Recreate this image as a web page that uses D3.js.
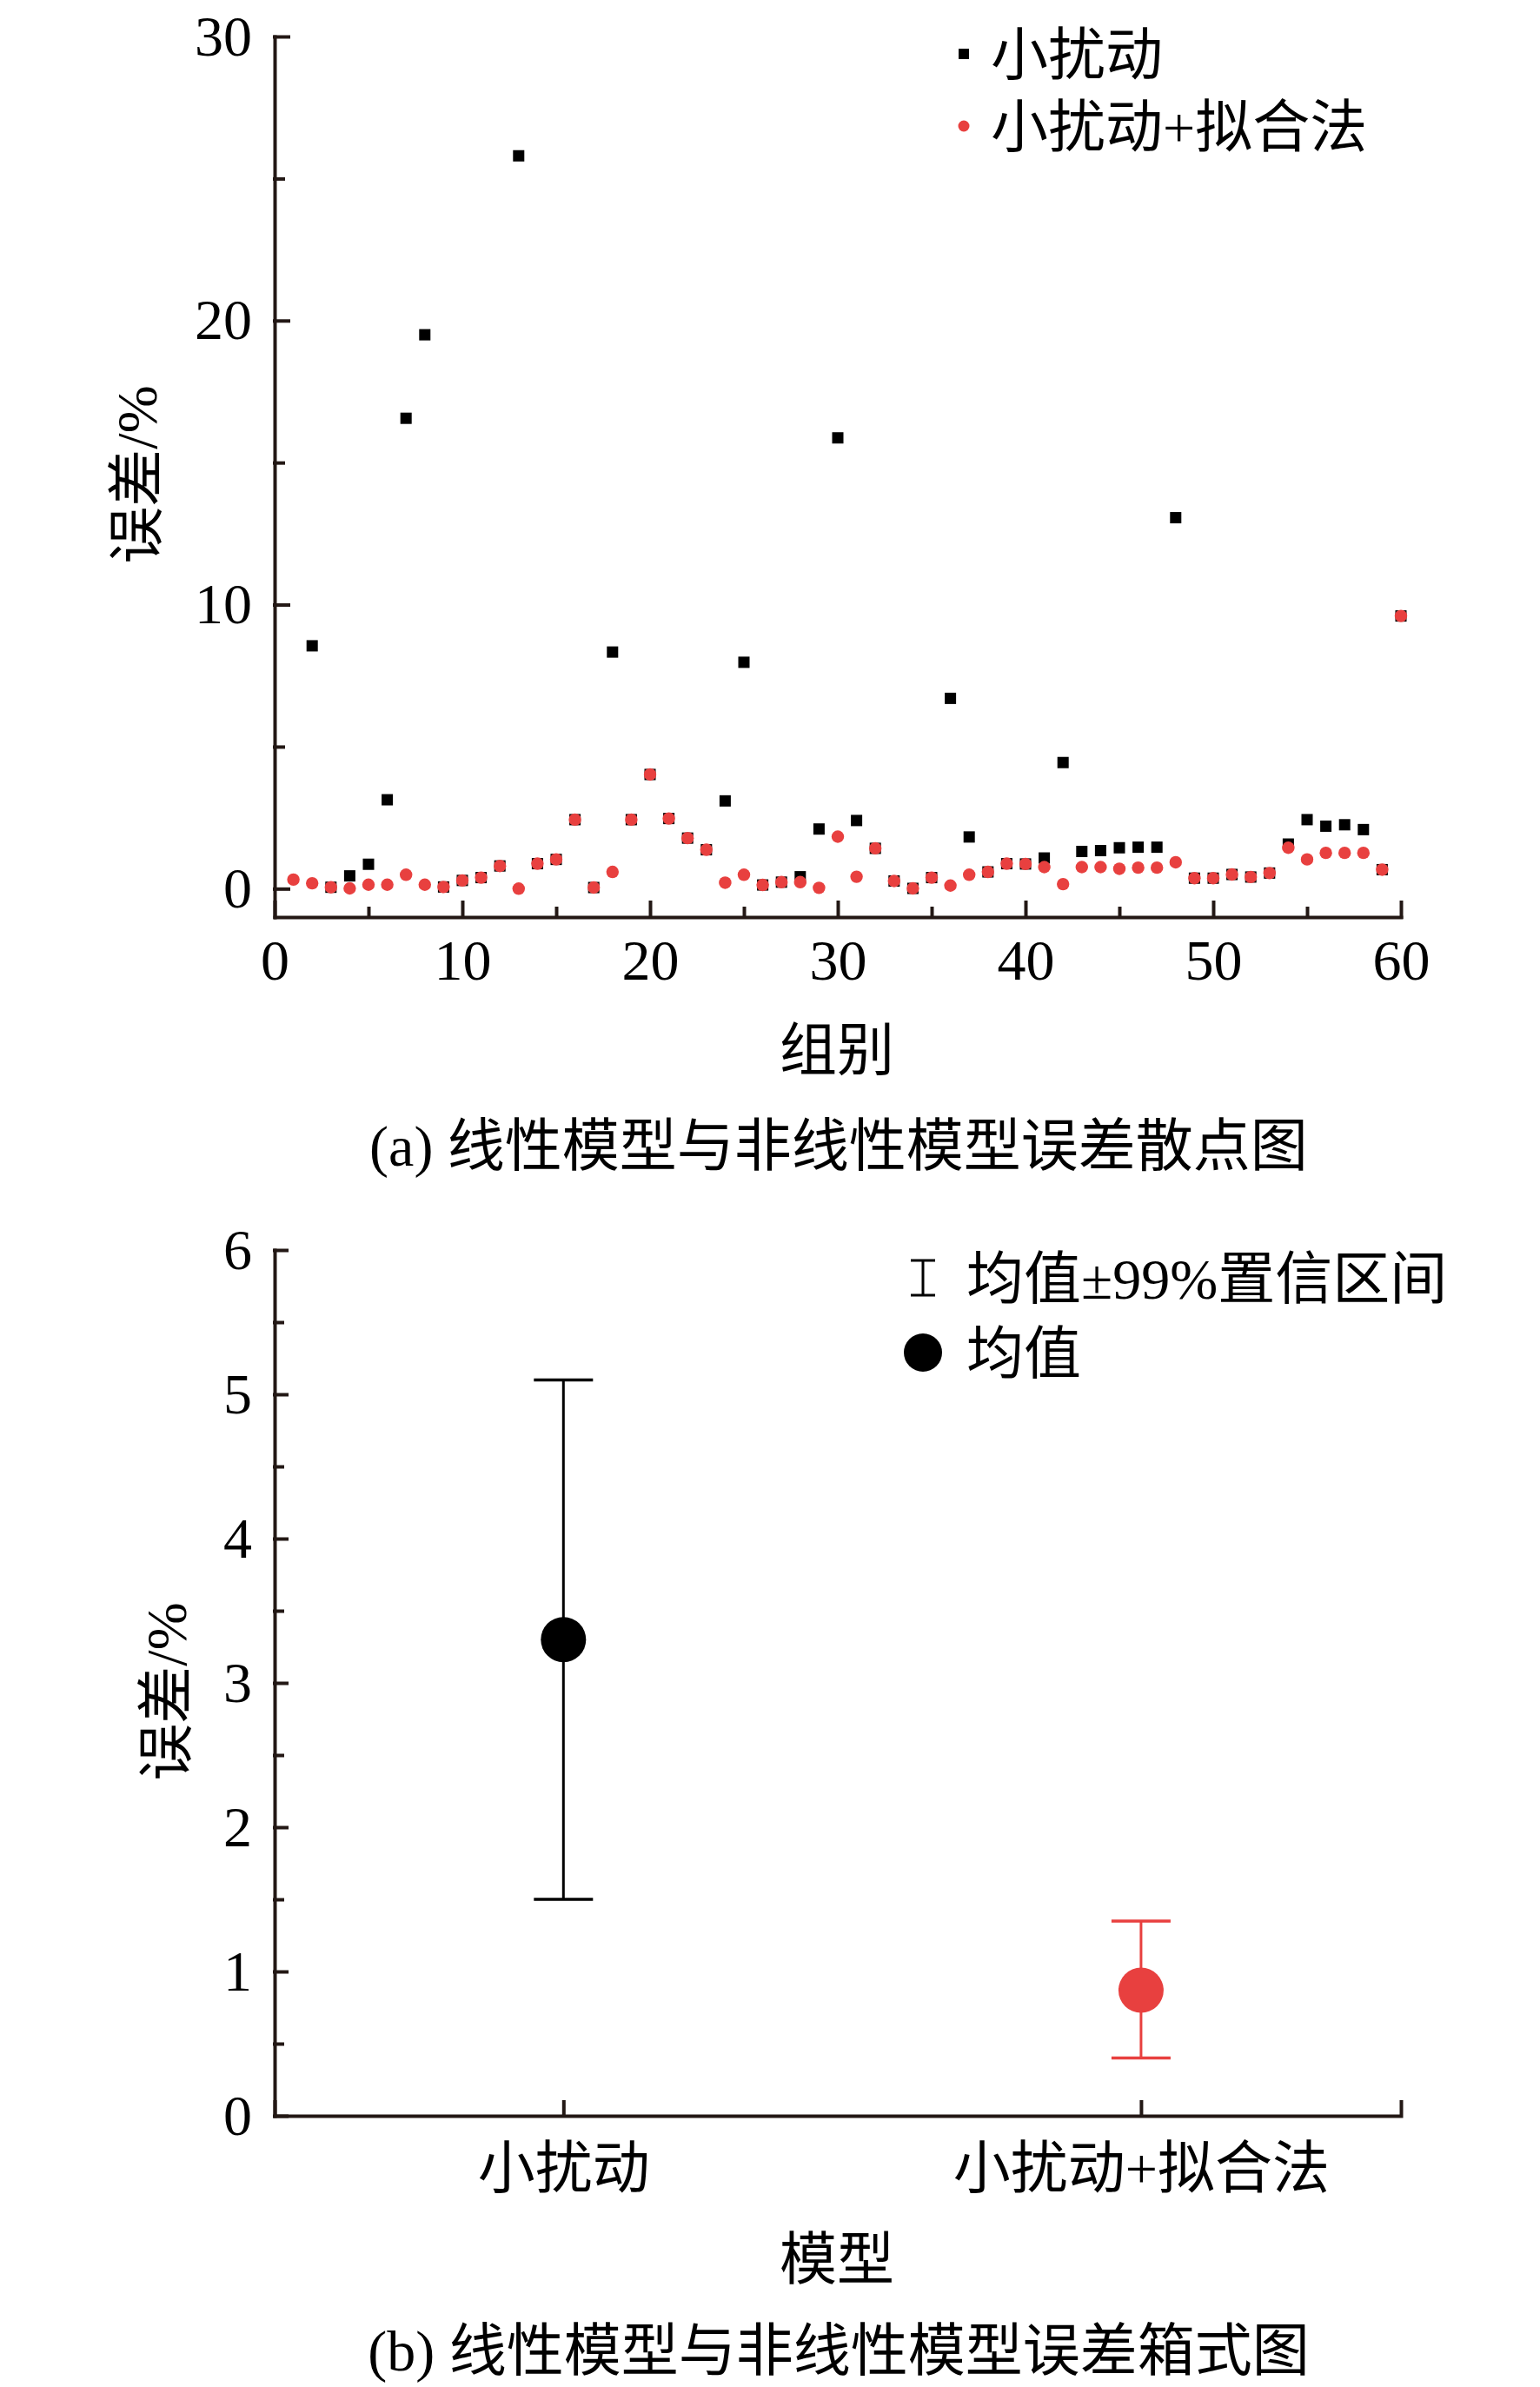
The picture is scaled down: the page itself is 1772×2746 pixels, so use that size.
<!DOCTYPE html>
<html>
<head>
<meta charset="utf-8">
<script src="https://cdn.jsdelivr.net/npm/d3@7/dist/d3.min.js"></script>
<style>
	body { margin: 0; background: #fff; }
	text { font-family: "Liberation Serif", "Noto Sans CJK SC", serif; fill: #000; }
</style>
</head>
<body>
<div id="chart"></div>
<script>
(function () {

	'use strict';

	// (a) scatter: error per group (group 1..60)
	var seriesNames = ['小扰动', '小扰动+拟合法'];
	var smallPert = [null, 8.55, 0.05, 0.45, 0.86, 3.13, 16.56, 19.5, 0.06, 0.29,
		0.39, 0.80, 25.8, 0.88, 1.03, 2.43, 0.04, 8.33, 2.43, 4.02,
		2.47, 1.78, 1.37, 3.09, 7.97, 0.13, 0.23, 0.42, 2.1, 15.87,
		2.4, 1.42, 0.27, 0.01, 0.39, 6.7, 1.82, 0.59, 0.88, 0.87,
		1.08, 4.44, 1.31, 1.34, 1.44, 1.46, 1.46, 13.06, 0.37, 0.37,
		0.5, 0.41, 0.55, 1.57, 2.43, 2.2, 2.25, 2.08, 0.67, 9.6];
	var smallPertFit = [0.32, 0.19, 0.05, 0.01, 0.14, 0.14, 0.49, 0.14, 0.06, 0.29,
		0.39, 0.80, 0.0, 0.88, 1.03, 2.43, 0.04, 0.59, 2.43, 4.02,
		2.47, 1.78, 1.37, 0.21, 0.49, 0.13, 0.23, 0.23, 0.03, 1.83,
		0.42, 1.42, 0.27, 0.01, 0.39, 0.11, 0.49, 0.59, 0.88, 0.87,
		0.76, 0.16, 0.76, 0.76, 0.7, 0.74, 0.74, 0.93, 0.37, 0.37,
		0.5, 0.41, 0.55, 1.44, 1.03, 1.26, 1.26, 1.26, 0.67, 9.6];
	var xTicksA = [0, 10, 20, 30, 40, 50, 60];
	var xMinorA = [5, 15, 25, 35, 45, 55];
	var yTicksA = [0, 10, 20, 30];
	var yMinorA = [5, 15, 25];

	// (b) mean with 99% confidence interval
	var models = ['小扰动', '小扰动+拟合法'];
	var means = [3.3, 0.87];
	var ciLow = [1.5, 0.40];
	var ciHigh = [5.1, 1.35];
	var yTicksB = [0, 1, 2, 3, 4, 5, 6];
	var yMinorB = [0.5, 1.5, 2.5, 3.5, 4.5, 5.5];
	var legendB = ['均值±99%置信区间', '均值'];

	var axisColor = '#231815';
	var red = '#e8403f';
	var cjkSize = 66;
	var numSize = 66;
	var left = 316;
	var right = 1612;

	var svg = d3.select('#chart')
		.append('svg')
		.attr('width', 1772)
		.attr('height', 2746);

	function styleAxis(g, size) {
		g.selectAll('path, line')
			.attr('stroke', axisColor)
			.attr('stroke-width', 4)
			.attr('stroke-linecap', 'square');
		g.selectAll('text')
			.attr('fill', '#000')
			.style('font-size', size + 'px');
	}

	function minorAxis(axis, at) {
		svg.append('g')
			.attr('transform', at)
			.call(axis.tickFormat('').tickSizeOuter(0))
			.call(function (g) {
				g.select('.domain').remove();
				styleAxis(g, 0);
			});
	}

	function label(x, y, str, anchor) {
		return svg.append('text')
			.attr('x', x)
			.attr('y', y)
			.attr('dy', '0.36em')
			.attr('text-anchor', anchor || 'start')
			.style('font-size', cjkSize + 'px')
			.text(str);
	}

	/* ---------- (a) scatter ---------- */
	var xA = d3.scaleLinear().domain([0, 60]).range([left, right]);
	var yA = d3.scaleLinear().domain([-1, 30]).range([1055, 42]);

	minorAxis(d3.axisBottom(xA).tickValues(xMinorA).tickSize(-10), 'translate(0,' + yA(-1) + ')');
	minorAxis(d3.axisLeft(yA).tickValues(yMinorA).tickSize(-10), 'translate(' + xA(0) + ',0)');

	svg.append('g')
		.attr('transform', 'translate(0,' + yA(-1) + ')')
		.call(d3.axisBottom(xA).tickValues(xTicksA).tickSize(-17).tickSizeOuter(0).tickPadding(25))
		.call(function (g) { styleAxis(g, numSize); });

	svg.append('g')
		.attr('transform', 'translate(' + xA(0) + ',0)')
		.call(d3.axisLeft(yA).tickValues(yTicksA).tickSize(-16).tickSizeOuter(0).tickPadding(26))
		.call(function (g) { styleAxis(g, numSize); });

	svg.append('g')
		.selectAll('rect')
		.data(smallPert.map(function (v, i) { return { g: i + 1, v: v }; })
			.filter(function (d) { return d.v !== null; }))
		.enter()
		.append('rect')
		.attr('x', function (d) { return xA(d.g) - 6.5; })
		.attr('y', function (d) { return yA(d.v) - 6.5; })
		.attr('width', 13)
		.attr('height', 13)
		.attr('fill', '#000');

	svg.append('g')
		.selectAll('circle')
		.data(smallPertFit.map(function (v, i) { return { g: i + 1, v: v }; }))
		.enter()
		.append('circle')
		.attr('cx', function (d) { return xA(d.g); })
		.attr('cy', function (d) { return yA(d.v); })
		.attr('r', 7.2)
		.attr('fill', red);

	// legend (a)
	svg.append('rect').attr('x', 1103).attr('y', 56).attr('width', 12).attr('height', 12).attr('fill', '#000');
	svg.append('circle').attr('cx', 1109).attr('cy', 145).attr('r', 6.5).attr('fill', red);
	label(1140, 62, seriesNames[0]);
	label(1140, 145, seriesNames[1]);

	label(963, 1207, '组别', 'middle');
	svg.append('text')
		.attr('transform', 'translate(156,546) rotate(-90)')
		.attr('dy', '0.36em')
		.attr('text-anchor', 'middle').style('font-size', cjkSize + 'px').text('误差/%');
	label(965, 1317, '(a) 线性模型与非线性模型误差散点图', 'middle');

	/* ---------- (b) mean and CI ---------- */
	var xB = d3.scaleLinear().domain([0.5, 2.45]).range([left, right]);
	var yB = d3.scaleLinear().domain([0, 6]).range([2434, 1438]);

	minorAxis(d3.axisLeft(yB).tickValues(yMinorB).tickSize(-9), 'translate(' + xB(0.5) + ',0)');

	svg.append('g')
		.attr('transform', 'translate(0,' + yB(0) + ')')
		.call(d3.axisBottom(xB).tickValues([1, 2]).tickSize(-16).tickSizeOuter(-16).tickPadding(36)
			.tickFormat(function (d) { return models[d - 1]; }))
		.call(function (g) { styleAxis(g, cjkSize); });

	svg.append('g')
		.attr('transform', 'translate(' + xB(0.5) + ',0)')
		.call(d3.axisLeft(yB).tickValues(yTicksB).tickSize(-14).tickSizeOuter(0).tickPadding(26)
			.tickFormat(d3.format('d')))
		.call(function (g) { styleAxis(g, numSize); });

	var bars = svg.append('g')
		.selectAll('g')
		.data(models.map(function (m, i) {
			return { x: i + 1, mean: means[i], lo: ciLow[i], hi: ciHigh[i], color: i === 0 ? '#000' : red };
		}))
		.enter()
		.append('g');

	bars.append('line')
		.attr('x1', function (d) { return xB(d.x); })
		.attr('x2', function (d) { return xB(d.x); })
		.attr('y1', function (d) { return yB(d.lo); })
		.attr('y2', function (d) { return yB(d.hi); })
		.attr('stroke', function (d) { return d.color; })
		.attr('stroke-width', 3);

	['lo', 'hi'].forEach(function (k) {
		bars.append('line')
			.attr('x1', function (d) { return xB(d.x) - 34; })
			.attr('x2', function (d) { return xB(d.x) + 34; })
			.attr('y1', function (d) { return yB(d[k]); })
			.attr('y2', function (d) { return yB(d[k]); })
			.attr('stroke', function (d) { return d.color; })
			.attr('stroke-width', 3.5);
	});

	bars.append('circle')
		.attr('cx', function (d) { return xB(d.x); })
		.attr('cy', function (d) { return yB(d.mean); })
		.attr('r', 26)
		.attr('fill', function (d) { return d.color; });

	// legend (b)
	var lx = 1062;
	svg.append('path')
		.attr('d', 'M' + (lx - 14) + ',1450H' + (lx + 14) + 'M' + lx + ',1450V1490M' + (lx - 14) + ',1490H' + (lx + 14))
		.attr('stroke', '#000').attr('stroke-width', 3).attr('fill', 'none');
	svg.append('circle').attr('cx', lx).attr('cy', 1556).attr('r', 22).attr('fill', '#000');
	label(1112, 1470, legendB[0]);
	label(1112, 1556, legendB[1]);

	label(963, 2598, '模型', 'middle');
	svg.append('text')
		.attr('transform', 'translate(190,1946) rotate(-90)')
		.attr('dy', '0.36em')
		.attr('text-anchor', 'middle').style('font-size', cjkSize + 'px').text('误差/%');
	label(965, 2703, '(b) 线性模型与非线性模型误差箱式图', 'middle');

})();
</script>
</body>
</html>
